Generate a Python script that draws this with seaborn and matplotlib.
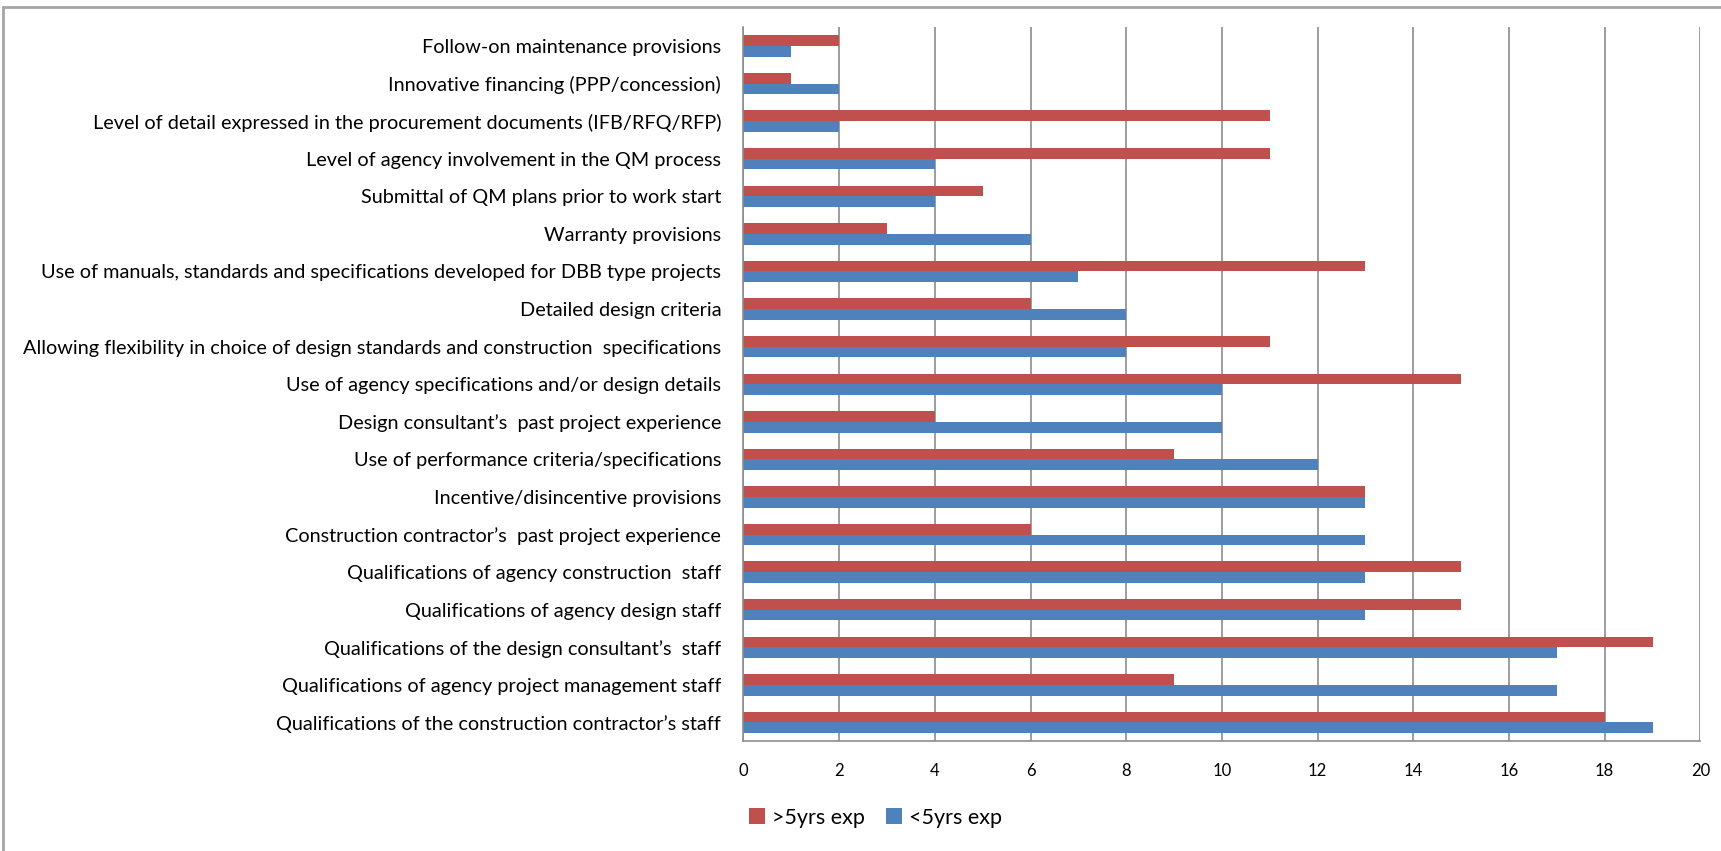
import matplotlib
matplotlib.use("Agg")
import matplotlib.pyplot as plt
from matplotlib.lines import Line2D
from matplotlib.patches import Patch
import seaborn as sns
import pandas as pd
import numpy as np

# categories, top to bottom as in the chart
categories = [
    "Follow-on maintenance provisions",
    "Innovative financing (PPP/concession)",
    "Level of detail expressed in the procurement documents (IFB/RFQ/RFP)",
    "Level of agency involvement in the QM process",
    "Submittal of QM plans prior to work start",
    "Warranty provisions",
    "Use of manuals, standards and specifications developed for DBB type projects",
    "Detailed design criteria",
    "Allowing flexibility in choice of design standards and construction  specifications",
    "Use of agency specifications and/or design details",
    "Design consultant\u2019s  past project experience",
    "Use of performance criteria/specifications",
    "Incentive/disincentive provisions",
    "Construction contractor\u2019s  past project experience",
    "Qualifications of agency construction  staff",
    "Qualifications of agency design staff",
    "Qualifications of the design consultant\u2019s  staff",
    "Qualifications of agency project management staff",
    "Qualifications of the construction contractor\u2019s staff",
]
more_5yrs = [2, 1, 11, 11, 5, 3, 13, 6, 11, 15, 4, 9, 13, 6, 15, 15, 19, 9, 18]
less_5yrs = [1, 2, 2, 4, 4, 6, 7, 8, 8, 10, 10, 12, 13, 13, 13, 13, 17, 17, 19]
series = [">5yrs exp", "<5yrs exp"]
colors = ["#C0504D", "#4F81BD"]
xticks = list(range(0, 21, 2))

df = pd.DataFrame({
    "factor": categories * 2,
    "count": more_5yrs + less_5yrs,
    "group": [series[0]] * len(categories) + [series[1]] * len(categories),
})

sns.set_style("white")
plt.rcParams["font.family"] = ["Lato", "DejaVu Sans"]
plt.rcParams["text.color"] = "black"
plt.rcParams["xtick.color"] = "black"
plt.rcParams["ytick.color"] = "black"

fig = plt.figure(figsize=(17.21, 8.51), dpi=100)
ax = fig.add_axes([0.432, 0.129, 0.556, 0.839])

sns.barplot(data=df, y="factor", x="count", hue="group", hue_order=series,
            order=categories, palette=colors, orient="h", width=0.57,
            saturation=1, edgecolor="none", legend=False, ax=ax)

ax.set_xlim(0, 20)
ax.set_ylim(len(categories) - 0.5, -0.5)
ax.set_xticks(xticks)
ax.set_xlabel("")
ax.set_ylabel("")
ax.xaxis.grid(True, color="#8c8c8c", linewidth=1.2)
ax.set_axisbelow(True)
for s in ["top", "right"]:
    ax.spines[s].set_visible(False)
for s in ["left", "bottom"]:
    ax.spines[s].set_color("#8c8c8c")
    ax.spines[s].set_linewidth(1.2)

ax.tick_params(axis="x", length=5, width=1, color="#8c8c8c", labelcolor="black",
               pad=11, labelsize=12)
ax.tick_params(axis="y", which="major", length=0, pad=16, labelsize=14.3,
               labelcolor="black")
ax.set_yticks(np.arange(-0.5, len(categories), 1), minor=True)
ax.tick_params(axis="y", which="minor", length=5, width=1, color="#8c8c8c")

handles = [Patch(facecolor=c, edgecolor="none") for c in colors]
fig.legend(handles, series, loc="center left", bbox_to_anchor=(0.424, 0.039),
           ncol=2, frameon=False, fontsize=15.5, handlelength=0.75, handleheight=0.75,
           handletextpad=0.3, columnspacing=1.0)

# chart border (left and top only visible)
fig.add_artist(Line2D([0.002, 0.002], [0, 0.992], transform=fig.transFigure,
                      color="#a6a6a6", linewidth=2))
fig.add_artist(Line2D([0.002, 1], [0.992, 0.992], transform=fig.transFigure,
                      color="#a6a6a6", linewidth=2))

fig.savefig("out.png", dpi=100)
